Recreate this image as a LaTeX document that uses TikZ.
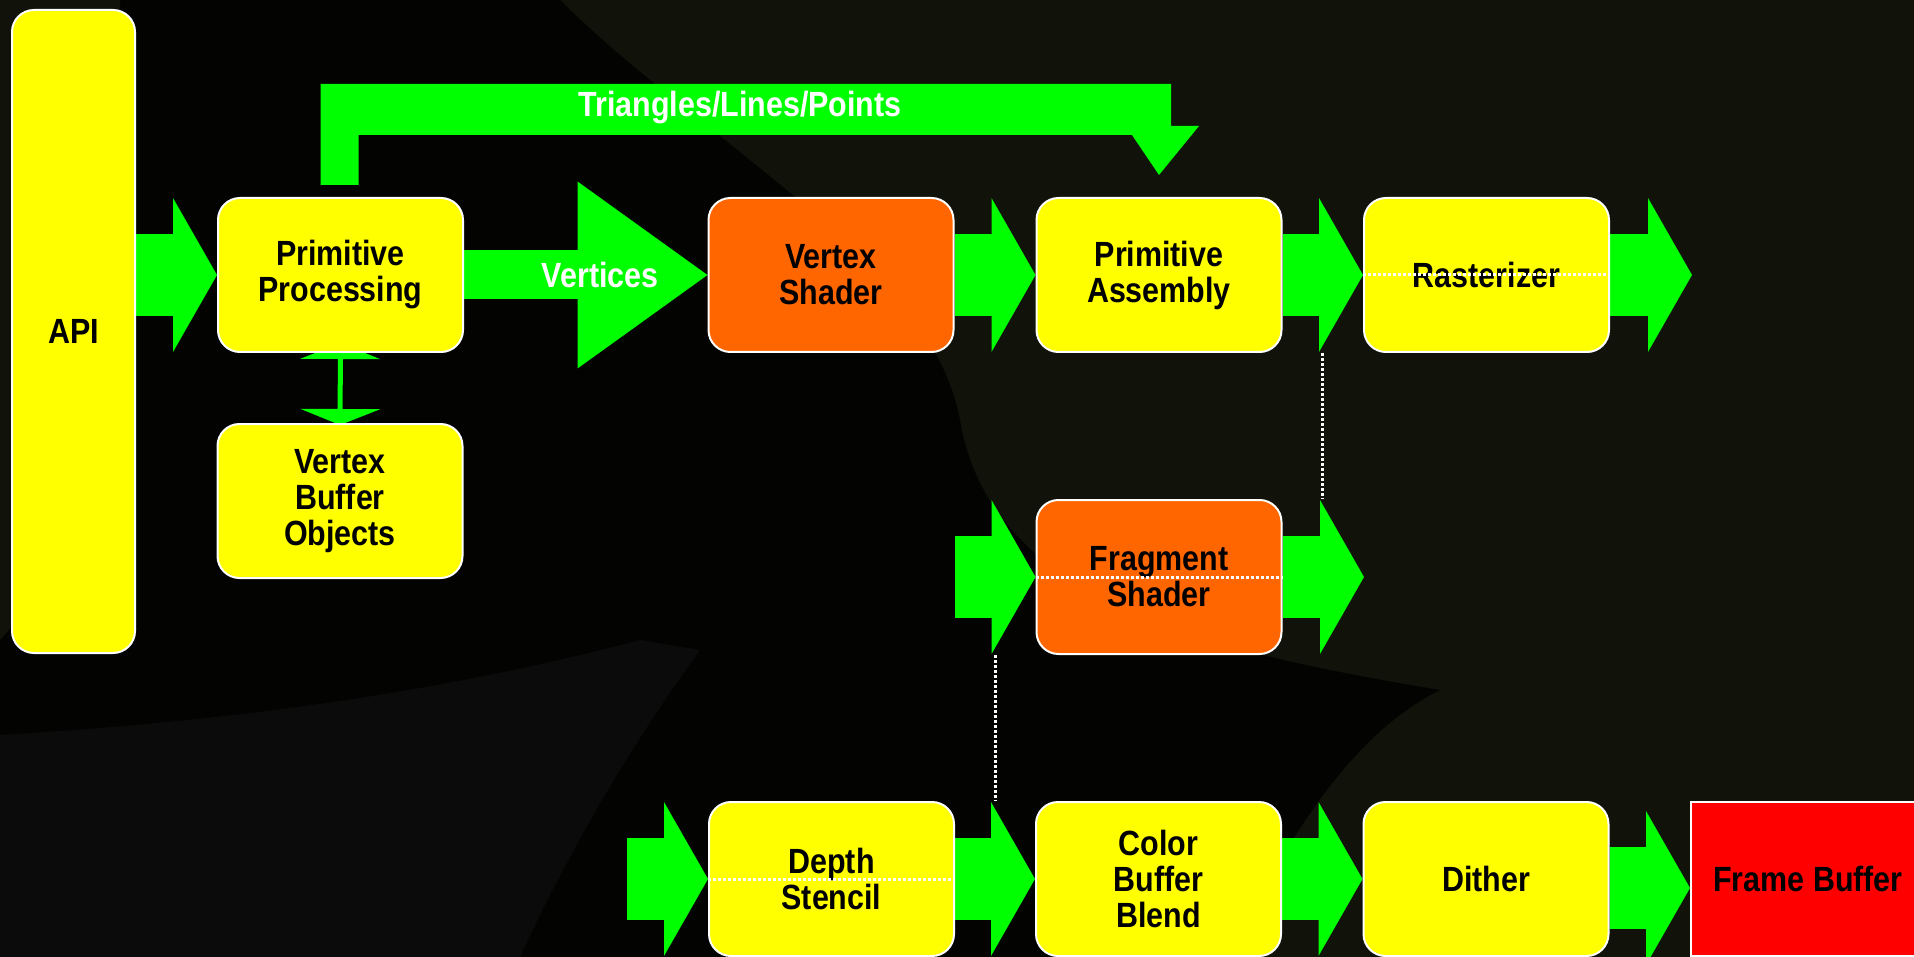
\documentclass[tikz,border=0pt]{standalone}
\usepackage{fontspec}
\usepackage{xcolor}
\usepackage{tikz}
\usetikzlibrary{arrows.meta, calc}
\newfontfamily\pipefont[FakeStretch=0.87]{Liberation Sans}
\definecolor{stagebg}{RGB}{17,18,9}
\definecolor{swooshdark}{RGB}{3,3,2}
\definecolor{swooshgray}{RGB}{11,11,11}
\definecolor{flowgreen}{RGB}{0,255,0}
\definecolor{stageyellow}{RGB}{255,255,0}
\definecolor{shaderorange}{RGB}{255,102,0}
\definecolor{fbred}{RGB}{255,0,0}
\pgfdeclarelayer{backdrop}
\pgfdeclarelayer{links}
\pgfsetlayers{backdrop,links,main}
\tikzset{
  stage/.style={
    rectangle, rounded corners=22pt,
    minimum width=245pt, minimum height=154pt, inner sep=0pt,
    align=center, draw=white, line width=2pt,
    fill=stageyellow, text=black,
    font=\pipefont\bfseries\fontsize{35}{36}\selectfont
  },
  shader/.style={stage, fill=shaderorange},
  sink/.style={stage, rounded corners=0pt, fill=fbred, minimum width=234pt},
  flowlabel/.style={text=white, font=\pipefont\bfseries\fontsize{35}{36}\selectfont},
  flowarrow/.style={draw=flowgreen, line width=82pt, -{Triangle[width=154pt, length=44pt, line width=0pt]}},
  vertarrow/.style={draw=flowgreen, line width=49pt, -{Triangle[width=187pt, length=130pt, line width=0pt]}},
  vbolink/.style={draw=flowgreen, line width=5pt,
    {Triangle[width=80pt, length=16pt, line width=0pt]}-{Triangle[width=80pt, length=16pt, line width=0pt]}},
  wiring/.style={draw=white, line width=3pt, dash pattern=on 3pt off 2pt}
}

\begin{document}
\begin{tikzpicture}[x=1pt, y=-1pt]
  % Background and swoosh
  \useasboundingbox (0,0) rectangle (1914,957);
  \begin{pgfonlayer}{backdrop}
    \fill[stagebg] (0,0) rectangle (1914,957);
    \fill[swooshdark] (120,0) -- (560,0) .. controls (700,140) and (930,260) .. (960,420)
      .. controls (990,600) and (1200,650) .. (1440,690)
      .. controls (1300,760) and (1250,957) .. (1200,957) -- (0,957) -- (0,640)
      .. controls (150,480) and (130,200) .. (120,0) -- cycle;
    \fill[swooshgray] (0,735) .. controls (250,720) and (450,690) .. (640,640)
      -- (700,650) .. controls (620,760) and (560,870) .. (520,957) -- (0,957) -- cycle;
  \end{pgfonlayer}

  % Pipeline stages
  \node[stage, minimum width=123pt, minimum height=643pt] (api) at (73.5,331.5) {API};
  \node[stage] (pp) at (340.5,275) {Primitive\\Processing};
  \node[stage] (vbo) at (340,501) {Vertex\\Buffer\\Objects};
  \node[shader] (vs) at (831,275) {Vertex\\Shader};
  \node[stage] (pa) at (1159,275) {Primitive\\Assembly};
  \node[stage] (rast) at (1486.5,275) {Rasterizer};
  \node[shader] (fs) at (1159,577) {Fragment\\Shader};
  \node[stage] (ds) at (831.5,879) {Depth\\Stencil};
  \node[stage] (cbb) at (1158.5,879) {Color\\Buffer\\Blend};
  \node[stage] (dither) at (1486,879) {Dither};
  \node[sink] (fb) at (1808,879) {Frame Buffer};

  % Free ends of the flow arrows
  \coordinate (rastout) at (1692,275);
  \coordinate (fsin) at (955,577);
  \coordinate (fsout) at (1364,577);
  \coordinate (dsin) at (627,879);

  % Flow arrows, tucked under the stages
  \begin{pgfonlayer}{links}
    \draw[flowarrow] (api.east |- pp.west) -- (pp.west);
    \draw[vertarrow] (pp.east) -- (vs.west) node[flowlabel, pos=0.56] (vlabel) {Vertices};
    \draw[flowarrow] (vs.east) -- (pa.west);
    \draw[flowarrow] (pa.east) -- (rast.west);
    \draw[flowarrow] (rast.east) -- (rastout);
    \draw[flowarrow] (fsin) -- (fs.west);
    \draw[flowarrow] (fs.east) -- (fsout);
    \draw[flowarrow] (dsin) -- (ds.west);
    \draw[flowarrow] (ds.east) -- (cbb.west);
    \draw[flowarrow] (cbb.east) -- (dither.west);
    \draw[flowarrow] ([yshift=-9pt]dither.east) -- ([yshift=-9pt]fb.west);
    \draw[vbolink] ([yshift=10pt]pp.south) -- ([yshift=-2pt]vbo.north);

    % Bent arrow over the top row
    \coordinate (tlpfoot) at ([yshift=12pt]pp.north);
    \coordinate (tlptip) at ([yshift=22pt]pa.north);
    \fill[flowgreen] ([xshift=-20pt]tlpfoot) |- ([xshift=12pt, yshift=91pt]tlptip)
      -- ++(0,42) -- ++(28,0) -- (tlptip) -- ++(-27,-40)
      -- ([xshift=18pt, yshift=50pt]tlpfoot) -- ([xshift=18pt]tlpfoot) -- cycle;
    \node[flowlabel] (tlplabel) at (740,108) {Triangles/Lines/Points};
  \end{pgfonlayer}

  % Dotted wiring between the rows
  \coordinate (gapR) at ($(pa.east)!.5!(rast.west)$);
  \coordinate (gapC) at ($(ds.east)!.5!(cbb.west)$);
  \draw[wiring] (rast.west) -- (rast.east);
  \draw[wiring] (gapR |- pa.south) -- (gapR |- fs.north);
  \draw[wiring] (fs.west) -- (fs.east);
  \draw[wiring] (gapC |- fs.south) -- (gapC |- cbb.north);
  \draw[wiring] (ds.west) -- (ds.east);
\end{tikzpicture}
\end{document}
